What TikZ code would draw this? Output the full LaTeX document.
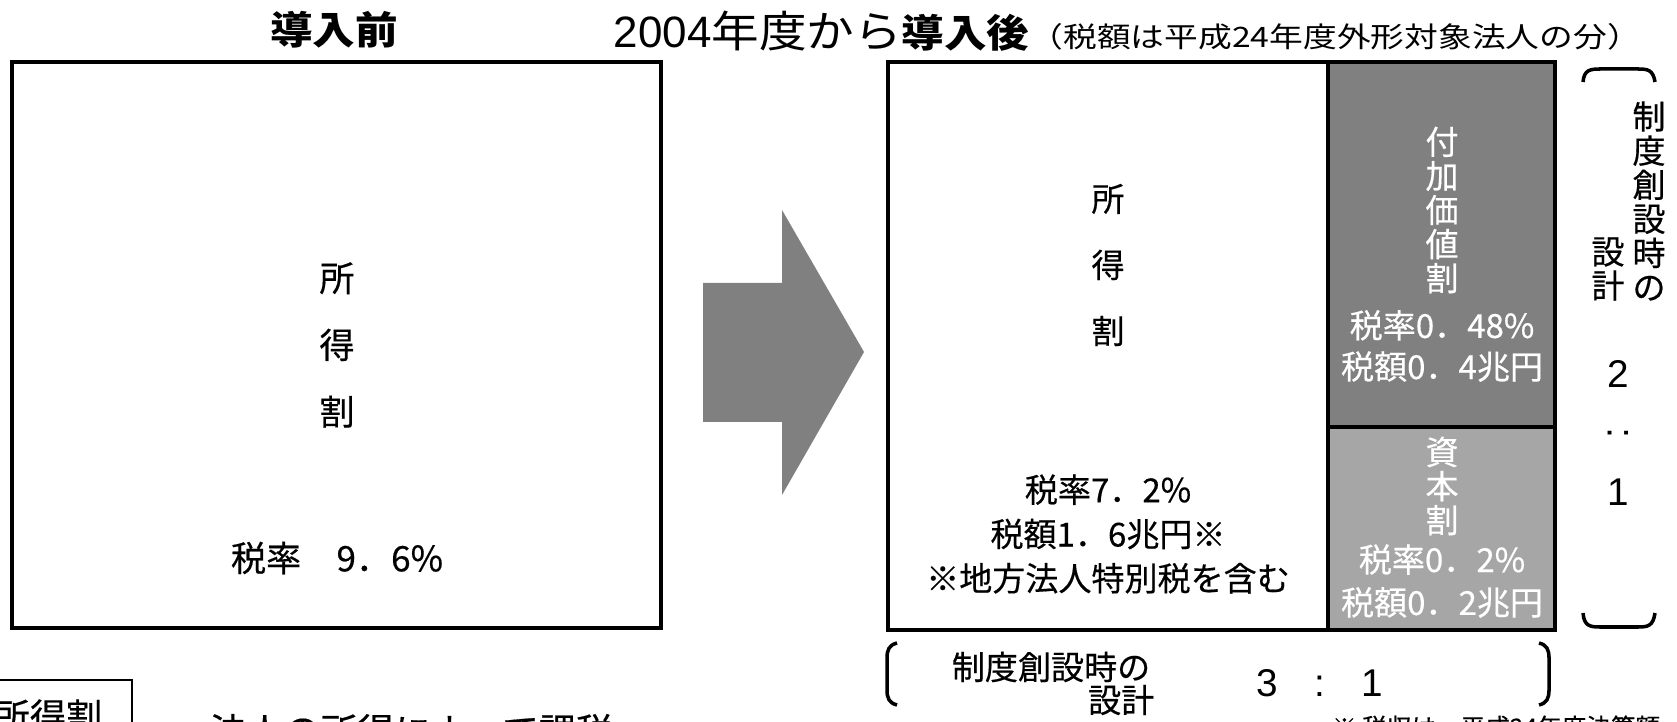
\documentclass[tikz,border=0pt]{standalone}
\usepackage{fontspec}
\setmainfont{Noto Sans CJK JP}[FakeBold=0.4]
\newfontfamily\widejp{Noto Sans CJK JP}[FakeStretch=1.1]
\newfontfamily\parjp{Noto Sans CJK JP}[FakeStretch=1.2]
\newfontfamily\numfont{Liberation Sans}
\usepackage{tikz}
\usetikzlibrary{positioning}
\definecolor{darkcol}{RGB}{128,128,128}
\definecolor{lightcol}{RGB}{166,166,166}

\begin{document}
\begin{tikzpicture}[x=0.01cm,y=-0.01cm,
    frame_line/.style={draw=black,line width=1.1pt},
    body_text/.style={inner sep=0,align=center,font=\fontsize{9.4}{12.6}\selectfont},
    col_text/.style={body_text,text=white},
    stack_text/.style={inner sep=0,align=center,font=\fontsize{9.4}{9.7}\selectfont},
    brace_line/.style={draw=black,line width=1pt}]
    \useasboundingbox (0,0) rectangle (1677,722);

    \node[inner sep=0,font=\widejp\bfseries\fontsize{11}{13}\selectfont] (before) at (334,30) {導入前};
    \node[inner sep=0,anchor=base west] (after) at (613,48) {{\numfont\fontsize{12.5}{14}\selectfont 2004}{\widejp\fontsize{12.3}{14}\selectfont 年度から}{\widejp\bfseries\fontsize{11}{13}\selectfont 導入後}{\parjp\fontsize{8}{10}\selectfont（税額は平成24年度外形対象法人の分）}};

    \draw[frame_line] (12,62) rectangle (661,628);
    \node[stack_text,font=\fontsize{10}{19}\selectfont] (old_income) at (337,345) {所\\得\\割};
    \node[body_text,font=\fontsize{10}{12}\selectfont] (old_rate) at (337,558) {税率　9．6\%};

    \fill[darkcol] (703,283) -- (782,283) -- (782,210) -- (864,352) -- (782,495) -- (782,422) -- (703,422) -- cycle;

    \fill[darkcol] (1328,62) rectangle (1555,427);
    \fill[lightcol] (1328,427) rectangle (1555,630);
    \draw[frame_line] (888,62) rectangle (1555,630);
    \draw[frame_line] (1328,62) -- (1328,630);
    \draw[frame_line] (1328,427) -- (1555,427);

    \node[stack_text,font=\fontsize{9.4}{18.8}\selectfont] (new_income) at (1108,265) {所\\得\\割};
    \node[body_text] (new_rate) at (1108,534) {税率7．2\%\\税額1．6兆円※\\※地方法人特別税を含む};
    \node[stack_text,text=white] (value_added) at (1442,210) {付\\加\\価\\値\\割};
    \node[col_text,font=\fontsize{9.4}{11.7}\selectfont] (value_tax) at (1442,346) {税率0．48\%\\税額0．4兆円};
    \node[stack_text,text=white] (capital) at (1442,486) {資\\本\\割};
    \node[col_text,font=\fontsize{9.4}{12.2}\selectfont] (capital_tax) at (1442,581) {税率0．2\%\\税額0．2兆円};

    \draw[brace_line] (1583,82) .. controls (1584,70) and (1590,69) .. (1600,69) -- (1638,69) .. controls (1648,69) and (1653,70) .. (1655,82);
    \draw[brace_line] (1583,613) .. controls (1584,626) and (1590,627) .. (1600,627) -- (1638,627) .. controls (1648,627) and (1653,626) .. (1655,613);
    \node[stack_text] (design_a) at (1649,201) {制\\度\\創\\設\\時\\の};
    \node[stack_text] (design_b) at (1608,269) {設\\計};
    \node[inner sep=0,font=\numfont\fontsize{11}{12}\selectfont] (ratio_top) at (1618,374) {2};
    \node[inner sep=0,font=\numfont\fontsize{11}{12}\selectfont] (ratio_sep) at (1618,433) {\rotatebox{90}{:}};
    \node[inner sep=0,font=\numfont\fontsize{11}{12}\selectfont] (ratio_bot) at (1618,492) {1};

    \draw[brace_line] (897,643) .. controls (889,645) and (887,650) .. (887,658) -- (887,690) .. controls (887,698) and (889,703) .. (897,705);
    \draw[brace_line] (1539,643) .. controls (1547,645) and (1549,650) .. (1549,658) -- (1549,690) .. controls (1549,698) and (1547,703) .. (1539,705);
    \node[body_text] (design_c) at (1051,667) {制度創設時の};
    \node[body_text,anchor=east] (design_d) at (1155,700) {設計};
    \node[inner sep=0,font=\numfont\fontsize{11}{12}\selectfont] (ratio_h) at (1320,683) {3\hspace{10.4pt}:\hspace{10.4pt}1};

    \draw[line width=0.6pt] (-10,680) rectangle (132,760);
    \node[body_text,font=\fontsize{10.3}{12}\selectfont] (legend_key) at (48,716) {所得割};
    \node[body_text,anchor=west,font=\fontsize{10.5}{12}\selectfont] (legend_text) at (209,731) {法人の所得によって課税};
    \node[body_text,anchor=east,font=\fontsize{7}{8}\selectfont] (source_note) at (1661,727) {※ 税収は、平成24年度決算額};
\end{tikzpicture}
\end{document}
